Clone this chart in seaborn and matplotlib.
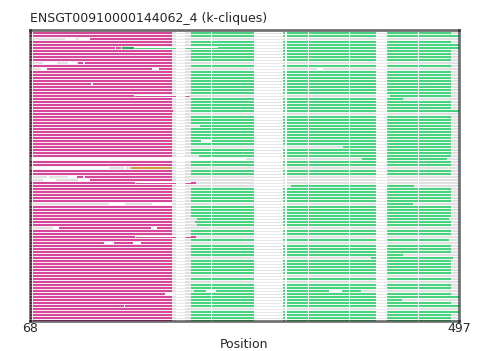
import matplotlib
matplotlib.use('Agg')
import matplotlib.pyplot as plt
import pandas as pd
import seaborn as sns

# --- data --------------------------------------------------------------
n_rows = 97
seq_start, seq_end = 68, 497
magenta_span = (68, 210)
green_span = (229, 489)

# alignment gap columns (white in every row)
gap_columns = [(70.4, 71.4), (214, 223), (249.2, 250.4), (291.7, 320.7), (323.5, 324.6),
               (345.8, 346.9), (386.8, 387.9), (414, 425), (455.8, 456.9)]
wide_gaps = [(214, 223), (291.7, 320.7), (414, 425)]

# per-row exceptions (row index from top)
magenta_override = {2: (128, 210), 5: (68, 159), 10: (116, 210), 12: (85, 210), 21: (68, 172),
                    26: (68, 211), 42: None, 45: None, 48: (115, 210), 49: (128, 210),
                    50: (68, 173), 57: None, 65: (97, 210), 68: (68, 173), 87: (68, 203)}
green_override = {1: (229, 497), 2: None, 4: (229, 497), 5: (256, 497), 10: None, 12: None,
                  21: (428, 489), 22: (229, 441), 26: (229, 497), 27: None, 31: (238, 489),
                  38: (381, 489), 41: (237, 489), 42: (400, 485), 45: None, 48: None, 49: None,
                  50: None, 51: (329, 452), 57: (425, 451), 62: (235, 487), 63: (233, 489),
                  64: (235, 489), 65: None, 68: None, 69: (229, 487), 70: None, 74: (229, 441),
                  75: (409, 491), 81: None, 83: None, 86: (232, 399), 88: (229, 497),
                  89: (229, 440), 91: (229, 497), 92: None, 93: (229, 497)}
gray_override = {42: (284, 497), 45: (147, 497)}

row_breaks = [(2, 103, 114), (2, 117, 128), (5, 153, 154), (5, 172, 256),
              (10, 81, 95), (10, 106, 115), (10, 121, 123),
              (12, 79, 85), (12, 190, 197), (12, 355, 361), (17, 129, 131),
              (21, 172, 227), (36, 239, 249), (45, 162, 164),
              (48, 85, 87), (48, 106, 115), (48, 121, 123), (49, 81, 94), (49, 116, 128),
              (50, 173, 229), (57, 147, 163), (57, 190, 210), (65, 91, 97), (65, 189, 195),
              (68, 173, 229), (70, 142, 152), (70, 171, 179), (86, 244, 254), (86, 367, 380),
              (87, 203, 213), (91, 162, 163)]

thin_segments = [(5, 172, 256, 'green'), (21, 172, 227, 'magenta'),
                 (50, 173, 229, 'magenta'), (68, 173, 229, 'magenta')]
extra_segments = [(5, 160, 172, 'dkgreen'), (45, 169, 210, 'olive'),
                  (50, 229, 234, 'magenta'), (68, 229, 234, 'magenta')]

colours = {'gray': '#e0e0e0', 'magenta': '#d6469a', 'green': '#48d37e',
           'olive': '#cf9a40', 'dkgreen': '#2e9e5b', 'white': 'white'}

# --- build segment table --------------------------------------------------
segs = []
for r in range(n_rows):
    g = gray_override.get(r, (seq_start, seq_end))
    segs.append((r, g[0], g[1], 'gray', 1))
    m = magenta_override.get(r, magenta_span)
    if m:
        segs.append((r, m[0], m[1], 'magenta', 2))
    gr = green_override.get(r, green_span)
    if gr:
        segs.append((r, gr[0], gr[1], 'green', 2))
for r, a, b in row_breaks:
    segs.append((r, a, b, 'white', 3))
for r, a, b, c in extra_segments:
    segs.append((r, a, b, c, 4))
df = pd.DataFrame(segs, columns=['row', 'start', 'end', 'kind', 'layer'])

sns.set_style('white')
plt.rcParams['font.family'] = ['DejaVu Sans']

fig = plt.figure(figsize=(4.89, 3.51), dpi=100)
ax = fig.add_axes([30 / 489, 30 / 351, 429 / 489, 291 / 351])

lw = 1.5
for (layer, kind), d in df.groupby(['layer', 'kind']):
    lc = ax.hlines(d['row'], d['start'], d['end'], colors=colours[kind], linewidth=lw, zorder=layer)
    lc.set_capstyle('butt')
for r, a, b, c in thin_segments:
    lc = ax.hlines(r, a, b, colors=colours[c], linewidth=0.7, zorder=4)
    lc.set_capstyle('butt')
for a, b in gap_columns:
    ax.axvspan(a, b, color='white', lw=0, zorder=5)

# thin connector lines through the wide gap columns
gray_rows = [r for r in range(n_rows) if gray_override.get(r, (seq_start,))[0] <= 214]
for a, b in wide_gaps:
    lc = ax.hlines(gray_rows, a, b, colors='#e4e4e4', linewidth=0.6, zorder=5.5)
    lc.set_capstyle('butt')

ax.set_xlim(seq_start, seq_end)
ax.set_ylim(n_rows - 0.9, -0.9)
ax.set_yticks([])
ax.set_xticks([seq_start, seq_end])
ax.set_xticklabels([str(seq_start), str(seq_end)], fontsize=9)
ax.tick_params(axis='x', length=0, pad=1)
ax.set_xlabel('Position', fontsize=9, labelpad=2)
ax.set_title('ENSGT00910000144062_4 (k-cliques)', loc='left', fontsize=9, pad=6)

for s in ax.spines.values():
    s.set_visible(True)
    s.set_color('black')
    s.set_alpha(0.58)
    s.set_linewidth(1.9)
    s.set_zorder(6)

fig.savefig('out.png', dpi=100)
